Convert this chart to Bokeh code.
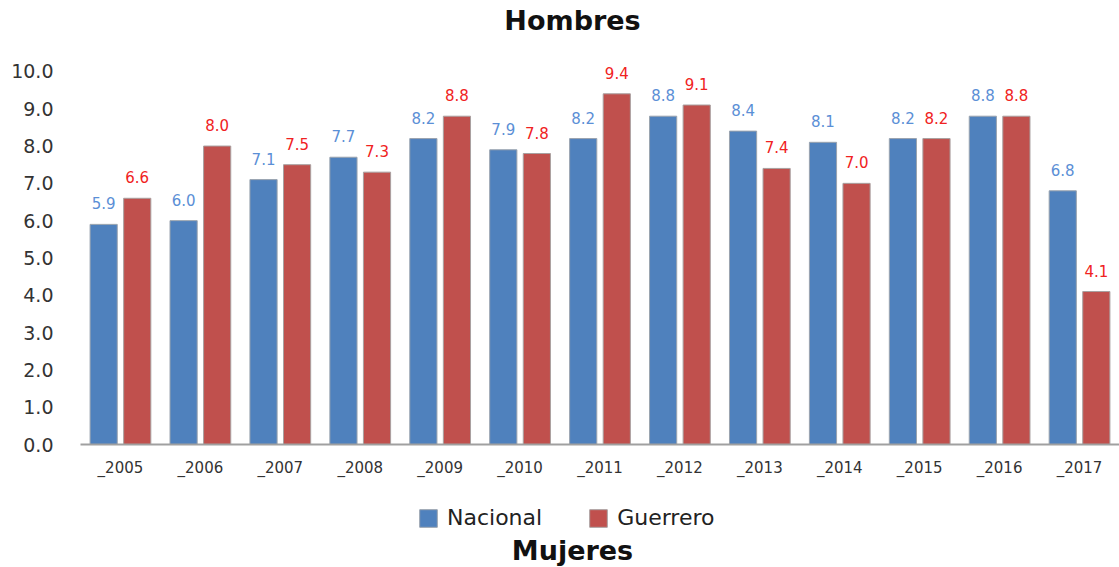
from bokeh.plotting import figure
from bokeh.layouts import column
from bokeh.models import (ColumnDataSource, FactorRange, Range1d, LabelSet, Label,
                          Legend, LegendItem, FixedTicker, NumeralTickFormatter)
from bokeh.core.properties import value
from bokeh.transform import dodge
from bokeh.embed import file_html
from bokeh.resources import INLINE

years = ["_2005", "_2006", "_2007", "_2008", "_2009", "_2010", "_2011",
         "_2012", "_2013", "_2014", "_2015", "_2016", "_2017"]
nacional = [5.9, 6.0, 7.1, 7.7, 8.2, 7.9, 8.2, 8.8, 8.4, 8.1, 8.2, 8.8, 6.8]
guerrero = [6.6, 8.0, 7.5, 7.3, 8.8, 7.8, 9.4, 9.1, 7.4, 7.0, 8.2, 8.8, 4.1]
y_ticks = [0, 1, 2, 3, 4, 5, 6, 7, 8, 9, 10]
series_names = ["Nacional", "Guerrero"]

FONT = "DejaVu Sans"
BLUE = "#4F81BD"
RED = "#C0504D"

src = ColumnDataSource(dict(
    year=years, nac=nacional, gue=guerrero,
    nac_t=[f"{v:.1f}" for v in nacional],
    gue_t=[f"{v:.1f}" for v in guerrero],
))

# top strip: chart heading
t = figure(x_range=Range1d(80, 1119), y_range=Range1d(0, 40), width=1119, height=40,
           output_backend="svg", toolbar_location=None, min_border=0,
           min_border_left=80)
t.axis.visible = False
t.grid.visible = False
t.outline_line_color = None
t.add_layout(Label(x=572, y=20, text="Hombres", text_align="center",
                   text_baseline="middle", text_font=FONT,
                   text_font_style="bold", text_font_size="27px",
                   text_color="#111111"))

p = figure(x_range=FactorRange(*years), y_range=Range1d(0, 10.4),
           width=1119, height=450, output_backend="svg", toolbar_location=None,
           min_border_left=80, min_border_right=0, min_border_top=16,
           min_border_bottom=46)
p.outline_line_color = None
p.xgrid.grid_line_color = None
p.ygrid.grid_line_color = None
p.x_range.range_padding = 0

rb = p.vbar(x=dodge("year", -0.21, range=p.x_range), top="nac", width=0.34,
            source=src, fill_color=BLUE, line_color="#9AA3AE", line_width=1)
rr = p.vbar(x=dodge("year", 0.21, range=p.x_range), top="gue", width=0.34,
            source=src, fill_color=RED, line_color="#A8A0A0", line_width=1)

lb = LabelSet(x=dodge("year", -0.21, range=p.x_range), y="nac", text="nac_t",
              source=src, text_align="center", text_baseline="alphabetic",
              y_offset=15, text_font=value(FONT), text_font_size=value("15px"),
              text_color=value("#5B8FD6"))
lr = LabelSet(x=dodge("year", 0.21, range=p.x_range), y="gue", text="gue_t",
              source=src, text_align="center", text_baseline="alphabetic",
              y_offset=15, text_font=value(FONT), text_font_size=value("15px"),
              text_color=value("#F02222"))
p.add_layout(lb)
p.add_layout(lr)

p.yaxis.ticker = FixedTicker(ticks=y_ticks)
p.yaxis.formatter = NumeralTickFormatter(format="0.0")
p.yaxis.axis_line_color = None
p.yaxis.major_tick_line_color = None
p.yaxis.minor_tick_line_color = None
p.yaxis.major_label_standoff = 21
p.yaxis.major_label_text_font = FONT
p.yaxis.major_label_text_font_size = "19px"
p.yaxis.major_label_text_color = "#333333"

p.xaxis.axis_line_color = "#A0A0A0"
p.xaxis.axis_line_width = 2
p.xaxis.major_tick_line_color = None
p.xaxis.minor_tick_line_color = None
p.xaxis.major_label_standoff = 8
p.xaxis.major_label_text_font = FONT
p.xaxis.major_label_text_font_size = "15px"
p.xaxis.major_label_text_color = "#333333"

# lower strip: legend and the next chart's heading (frame aligned with the chart)
q = figure(x_range=Range1d(80, 1119), y_range=Range1d(0, 77), width=1119, height=77,
           output_backend="svg", toolbar_location=None, min_border=0,
           min_border_left=80)
q.axis.visible = False
q.grid.visible = False
q.outline_line_color = None
# legend swatch proxies (zero-size, outside the visible range)
kb = q.vbar(x=[0], bottom=[0], top=[0], width=0, fill_color=BLUE, line_color="#9AA3AE")
kr = q.vbar(x=[0], bottom=[0], top=[0], width=0, fill_color=RED, line_color="#A8A0A0")

legend = Legend(items=[LegendItem(label=series_names[0], renderers=[kb]),
                       LegendItem(label=series_names[1], renderers=[kr])],
                orientation="horizontal", location=(337, 37),
                label_text_font=FONT, label_text_font_size="22px",
                label_text_color="#222222", glyph_width=22, glyph_height=22,
                spacing=45, padding=0, margin=0, border_line_color=None,
                background_fill_alpha=0, label_standoff=8)
q.add_layout(legend)
q.add_layout(Label(x=572, y=17, text="Mujeres", text_align="center",
                   text_baseline="middle", text_font=FONT,
                   text_font_style="bold", text_font_size="27px",
                   text_color="#111111"))

layout = column(t, p, q, spacing=0)
open("out.html", "w").write(file_html(layout, INLINE))
